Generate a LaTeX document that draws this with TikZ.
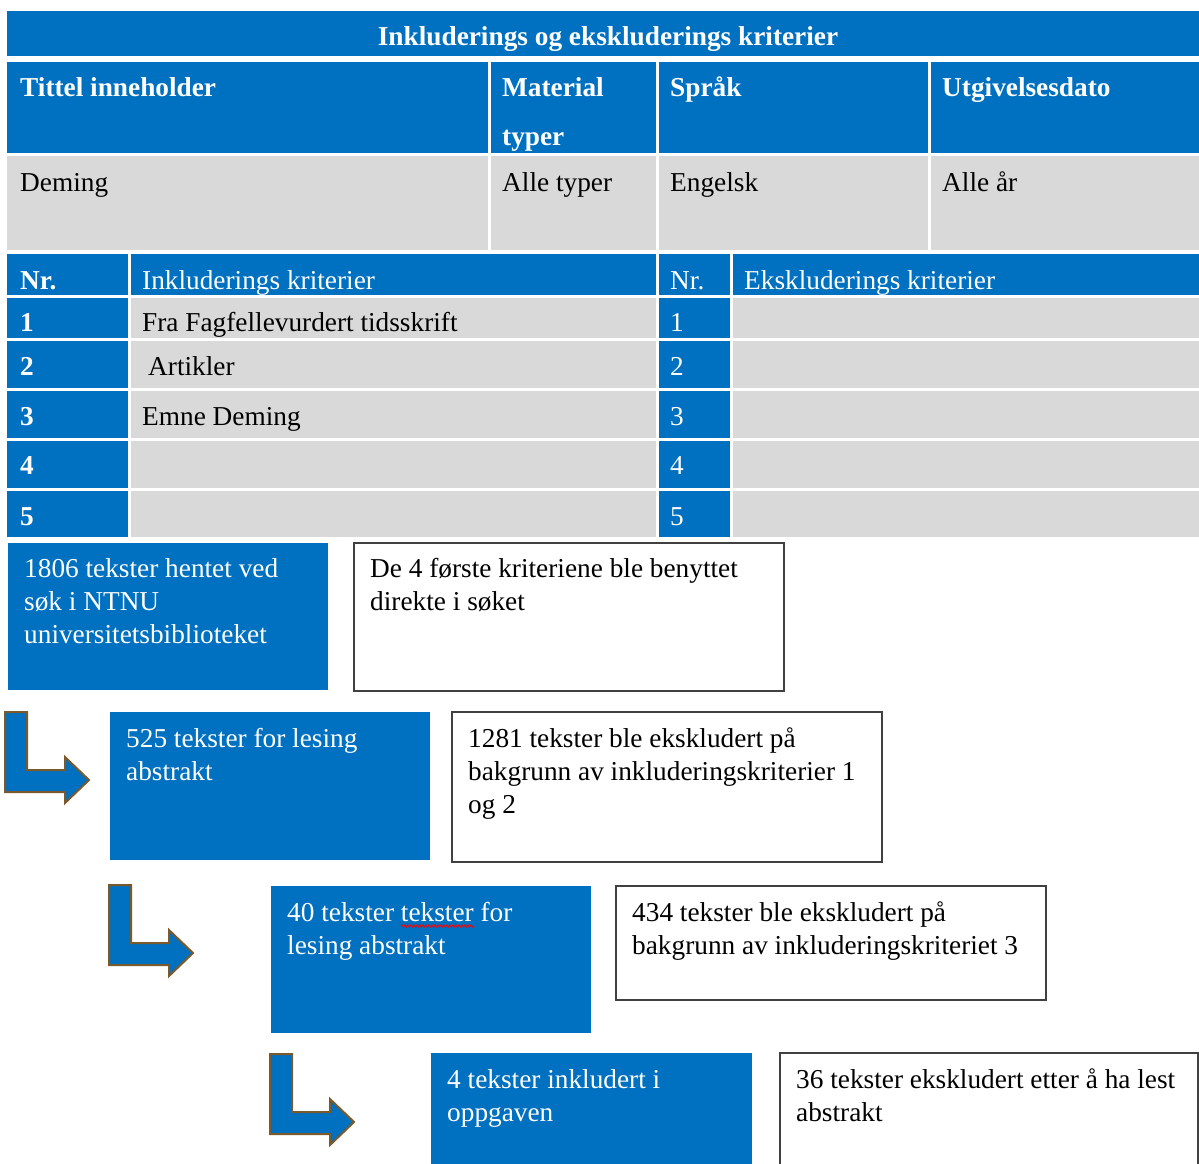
\documentclass[tikz,border=0pt]{standalone}
\usepackage{fontspec}
\setmainfont{Liberation Serif}
\usetikzlibrary{decorations.pathmorphing}
\definecolor{wblue}{HTML}{0070C0}
\definecolor{wgray}{HTML}{D9D9D9}
\definecolor{wbrown}{HTML}{7A5A2C}
\definecolor{wline}{HTML}{404040}
\newcommand\tfs{\fontsize{27.3}{33}\selectfont}
\newcommand\mkcell[6]{\node[#6, anchor=north west, minimum width={#4-#2}, minimum height={#5-#3}] (#1) at (#2,#3) {};}
\newcommand\bentarrow[3]{\coordinate (#1) at (#2,#3);
  \draw[barrow] (#1) -- ++(22,0) -- ++(0,58) -- ++(38,0) -- ++(0,-13) -- ++(24,23) -- ++(-24,23) -- ++(0,-11) -- ++(-60,0) -- cycle;}
\begin{document}
\begin{tikzpicture}[x=1pt,y=-1pt,
  cblue/.style={rectangle, fill=wblue, inner sep=0, outer sep=0},
  cgray/.style={rectangle, fill=wgray, inner sep=0, outer sep=0},
  wbox/.style={rectangle, fill=white, draw=wline, line width=1.5pt, inner sep=0, outer sep=0},
  hd/.style={text=white, font=\tfs\bfseries, inner sep=0},
  wt/.style={text=white, font=\tfs, inner sep=0},
  bt/.style={text=black, font=\tfs, inner sep=0},
  barrow/.style={fill=wblue, draw=wbrown, line width=2pt, line join=miter}]
\clip (0,0) rectangle (1199,1163);
\fill[white] (0,0) rectangle (1199,1163);

% title bar
\mkcell{tbar}{7}{11}{1199}{56}{cblue}
\node[hd, anchor=base] (title) at (608,45) {Inkluderings og ekskluderings kriterier};

% row 2 (headers)
\mkcell{h1}{7}{62}{488}{153}{cblue}
\mkcell{h2}{491}{62}{656}{153}{cblue}
\mkcell{h3}{659}{62}{928}{153}{cblue}
\mkcell{h4}{931}{62}{1199}{153}{cblue}
\node[hd, anchor=base west] (h1t) at (20,96) {Tittel inneholder};
\node[hd, anchor=base west] (h2t) at (502,96) {Material};
\node[hd, anchor=base west] (h2u) at (502,145) {typer};
\node[hd, anchor=base west] (h3t) at (670,96) {Språk};
\node[hd, anchor=base west] (h4t) at (942,96) {Utgivelsesdato};

% row 3 (values)
\mkcell{v1}{7}{156}{488}{250}{cgray}
\mkcell{v2}{491}{156}{656}{250}{cgray}
\mkcell{v3}{659}{156}{928}{250}{cgray}
\mkcell{v4}{931}{156}{1199}{250}{cgray}
\node[bt, anchor=base west] (v1t) at (20,191) {Deming};
\node[bt, anchor=base west] (v2t) at (502,191) {Alle typer};
\node[bt, anchor=base west] (v3t) at (670,191) {Engelsk};
\node[bt, anchor=base west] (v4t) at (942,191) {Alle år};

% row 4 (criteria headers)
\mkcell{n0}{7}{254}{128}{295}{cblue}
\mkcell{i0}{131}{254}{656}{295}{cblue}
\mkcell{m0}{659}{254}{730}{295}{cblue}
\mkcell{e0}{733}{254}{1199}{295}{cblue}
\node[hd, anchor=base west] (n0t) at (20,289) {Nr.};
\node[wt, anchor=base west] (i0t) at (142,289) {Inkluderings kriterier};
\node[wt, anchor=base west] (m0t) at (670,289) {Nr.};
\node[wt, anchor=base west] (e0t) at (744,289) {Ekskluderings kriterier};

% criteria rows
\mkcell{n1}{7}{298}{128}{338}{cblue}
\mkcell{i1}{131}{298}{656}{338}{cgray}
\mkcell{m1}{659}{298}{730}{338}{cblue}
\mkcell{e1}{733}{298}{1199}{338}{cgray}
\mkcell{n2}{7}{341}{128}{388}{cblue}
\mkcell{i2}{131}{341}{656}{388}{cgray}
\mkcell{m2}{659}{341}{730}{388}{cblue}
\mkcell{e2}{733}{341}{1199}{388}{cgray}
\mkcell{n3}{7}{391}{128}{438}{cblue}
\mkcell{i3}{131}{391}{656}{438}{cgray}
\mkcell{m3}{659}{391}{730}{438}{cblue}
\mkcell{e3}{733}{391}{1199}{438}{cgray}
\mkcell{n4}{7}{441}{128}{488}{cblue}
\mkcell{i4}{131}{441}{656}{488}{cgray}
\mkcell{m4}{659}{441}{730}{488}{cblue}
\mkcell{e4}{733}{441}{1199}{488}{cgray}
\mkcell{n5}{7}{491}{128}{537}{cblue}
\mkcell{i5}{131}{491}{656}{537}{cgray}
\mkcell{m5}{659}{491}{730}{537}{cblue}
\mkcell{e5}{733}{491}{1199}{537}{cgray}

\node[hd, anchor=base west] (n1t) at (20,331) {1};
\node[hd, anchor=base west] (n2t) at (20,375) {2};
\node[hd, anchor=base west] (n3t) at (20,425) {3};
\node[hd, anchor=base west] (n4t) at (20,474) {4};
\node[hd, anchor=base west] (n5t) at (20,525) {5};
\node[wt, anchor=base west] (m1t) at (670,331) {1};
\node[wt, anchor=base west] (m2t) at (670,375) {2};
\node[wt, anchor=base west] (m3t) at (670,425) {3};
\node[wt, anchor=base west] (m4t) at (670,474) {4};
\node[wt, anchor=base west] (m5t) at (670,525) {5};
\node[bt, anchor=base west] (i1t) at (142,331) {Fra Fagfellevurdert tidsskrift};
\node[bt, anchor=base west] (i2t) at (148,375) {Artikler};
\node[bt, anchor=base west] (i3t) at (142,425) {Emne Deming};

% flow: step 1
\mkcell{fa}{8}{543}{328}{690}{cblue}
\node[wt, anchor=base west] (fa1) at (24,577) {1806 tekster hentet ved};
\node[wt, anchor=base west] (fa2) at (24,610) {søk i NTNU};
\node[wt, anchor=base west] (fa3) at (24,643) {universitetsbiblioteket};
\mkcell{fb}{354}{543}{784}{691}{wbox}
\node[bt, anchor=base west] (fb1) at (370,577) {De 4 første kriteriene ble benyttet};
\node[bt, anchor=base west] (fb2) at (370,610) {direkte i søket};

% step 2
\bentarrow{ar1}{5}{712}
\mkcell{fc}{110}{712}{430}{860}{cblue}
\node[wt, anchor=base west] (fc1) at (126,747) {525 tekster for lesing};
\node[wt, anchor=base west] (fc2) at (126,780) {abstrakt};
\mkcell{fd}{452}{712}{882}{862}{wbox}
\node[bt, anchor=base west] (fd1) at (468,747) {1281 tekster ble ekskludert på};
\node[bt, anchor=base west] (fd2) at (468,780) {bakgrunn av inkluderingskriterier 1};
\node[bt, anchor=base west] (fd3) at (468,813) {og 2};

% step 3
\bentarrow{ar2}{109}{885}
\mkcell{fe}{271}{886}{591}{1033}{cblue}
\node[wt, anchor=base west] (fe1) at (287,921) {40 tekster tekster for};
\node[wt, anchor=base west] (fe2) at (287,954) {lesing abstrakt};
\coordinate (sq1) at (401,926);
\coordinate (sq2) at (474,926);
\draw[red, line width=0.8pt, decorate, decoration={snake, amplitude=1.2pt, segment length=3pt}] (sq1) -- (sq2);
\mkcell{ff}{616}{886}{1046}{1000}{wbox}
\node[bt, anchor=base west] (ff1) at (632,921) {434 tekster ble ekskludert på};
\node[bt, anchor=base west] (ff2) at (632,954) {bakgrunn av inkluderingskriteriet 3};

% step 4
\bentarrow{ar3}{270}{1054}
\mkcell{fg}{431}{1053}{752}{1180}{cblue}
\node[wt, anchor=base west] (fg1) at (447,1088) {4 tekster inkludert i};
\node[wt, anchor=base west] (fg2) at (447,1121) {oppgaven};
\mkcell{fh}{780}{1053}{1198}{1180}{wbox}
\node[bt, anchor=base west] (fh1) at (796,1088) {36 tekster ekskludert etter å ha lest};
\node[bt, anchor=base west] (fh2) at (796,1121) {abstrakt};
\end{tikzpicture}
\end{document}
